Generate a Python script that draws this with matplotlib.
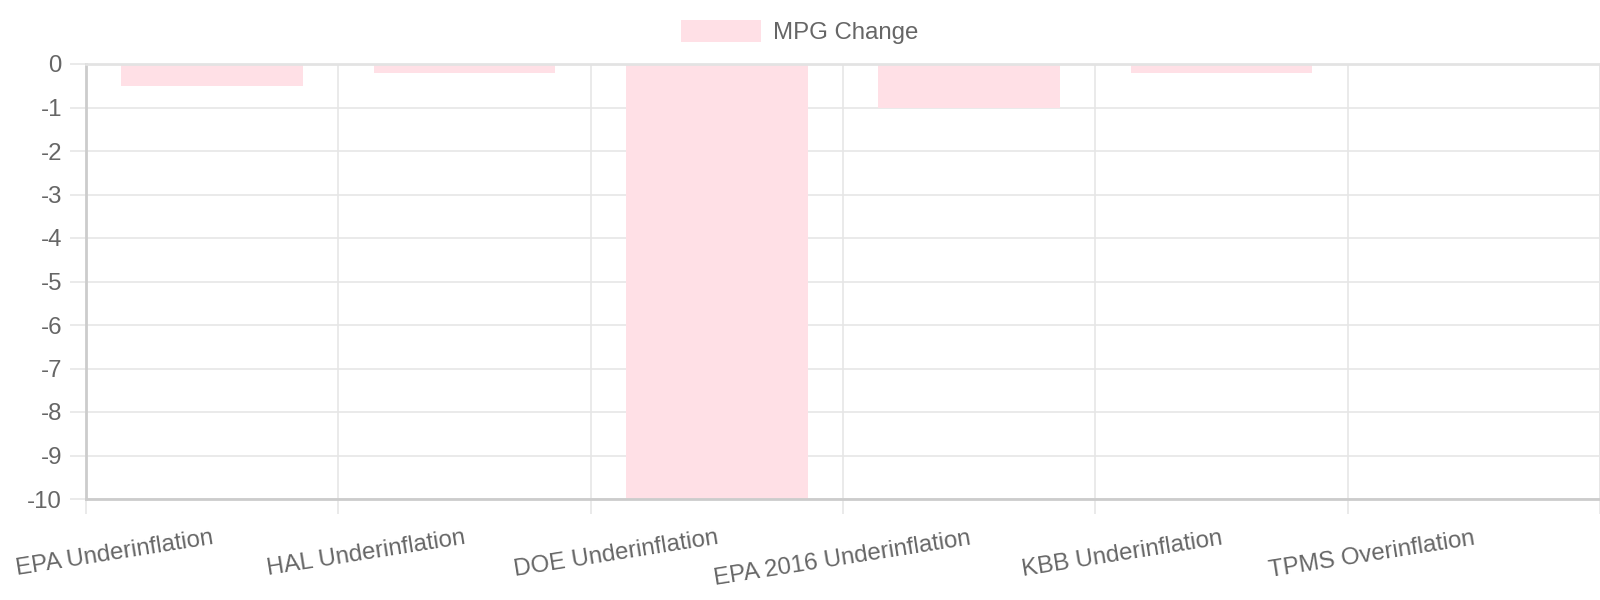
import matplotlib.pyplot as plt
import matplotlib.transforms as mtransforms
import numpy as np

categories = ['EPA Underinflation', 'HAL Underinflation', 'DOE Underinflation',
              'EPA 2016 Underinflation', 'KBB Underinflation', 'TPMS Overinflation']
mpg_change = [-0.5, -0.2, -10, -1, -0.2, 0]
y_ticks = [0, -1, -2, -3, -4, -5, -6, -7, -8, -9, -10]

plt.rcParams['font.family'] = ['Liberation Sans', 'DejaVu Sans']
fs = 17.3
txt = '#666666'
grid = '#e6e6e6'

fig = plt.figure(figsize=(16, 6), dpi=100)
ax = fig.add_axes([86 / 1600, 1 - 499 / 600, 1 - 86 / 1600, (499 - 64) / 600])

x = np.arange(len(categories))
bars = ax.bar(x, mpg_change, width=0.72, color='#ffe0e6', label='MPG Change', zorder=2)

ax.set_xlim(-0.5, len(categories) - 0.5)
ax.set_ylim(-10, 0)
ax.set_yticks(y_ticks)
ax.set_yticklabels([str(v) for v in y_ticks])
ax.set_xticks(np.arange(len(categories) + 1) - 0.5)
ax.set_xticklabels([])

ax.grid(True, color=grid, linewidth=1.2, zorder=0)
ax.set_axisbelow(True)
ax.tick_params(axis='y', length=11.5, width=1.2, color=grid, pad=5.8,
               labelsize=fs, labelcolor=txt)
ax.tick_params(axis='x', length=10.8, width=1.2, color=grid)

for s in ['left', 'bottom']:
    ax.spines[s].set_color('#cccccc')
    ax.spines[s].set_linewidth(2)
ax.spines['top'].set_color('#e3e3e3')
ax.spines['top'].set_linewidth(2)
ax.spines['right'].set_color(grid)
ax.spines['right'].set_linewidth(1.2)

# tilted category labels, right end anchored near each category centre
base = mtransforms.blended_transform_factory(ax.transData, ax.transAxes)
lab_tr = mtransforms.offset_copy(base, fig=fig, x=2, y=-45, units='dots')
for i, name in enumerate(categories):
    ax.text(i, 0, name, transform=lab_tr, rotation=9, rotation_mode='anchor',
            ha='right', va='baseline', fontsize=fs, color=txt)

fig.legend(handles=[bars], loc='upper center', bbox_to_anchor=(0.5, 1 - 20 / 600),
           frameon=False, fontsize=fs, labelcolor=txt, handlelength=3.33,
           handleheight=1.0, handletextpad=0.5, borderpad=0, borderaxespad=0)

fig.savefig('out.png', dpi=100)
